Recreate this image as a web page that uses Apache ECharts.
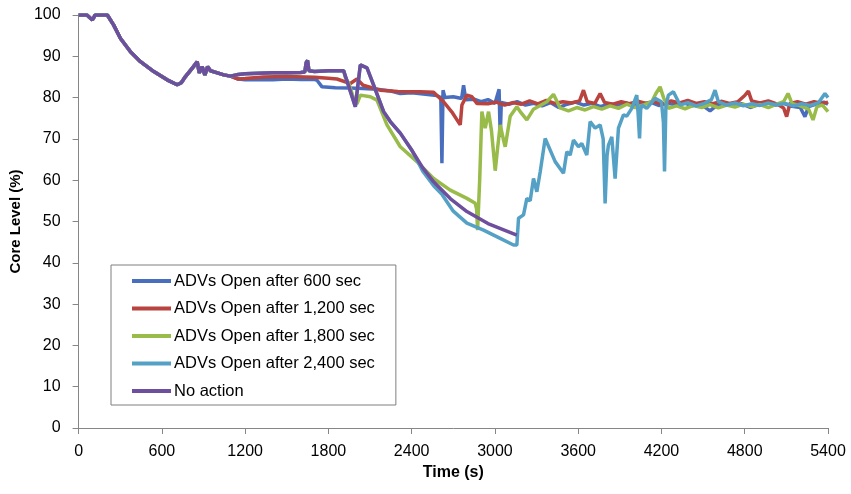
<!DOCTYPE html>
<html>
<head>
<meta charset="utf-8">
<script src="https://cdn.jsdelivr.net/npm/echarts@6/dist/echarts.min.js"></script>
<style>
  html, body { margin: 0; padding: 0; background: #fff; }
  #chart { width: 851px; height: 494px; }
</style>
</head>
<body>
<div id="chart"></div>
<script>
// 数据：[时间(s), 堆芯水位(%)]
const xTicks = [0, 600, 1200, 1800, 2400, 3000, 3600, 4200, 4800, 5400];
const seriesNames = ['ADVs Open after 600 sec', 'ADVs Open after 1,200 sec', 'ADVs Open after 1,800 sec', 'ADVs Open after 2,400 sec', 'No action'];

// 所有工况共同的前段
const commonStart = [[0,100],[60,100],[99,98.8],[120,100],[207,100],[252,97.6],[302,94.3],[374,91.1],[446,88.7],[542,86.3],[638,84.3],[710,83.1],[740,83.6],[770,85.1],[828,87.5],[854,88.7],[870,86],[890,87.5],[910,85.5],[930,87.5],[950,86.5],[1000,86],[1046,85.5],[1094,85.2]];

const adv600 = [[1150,84.5],[1200,84.3],[1300,84.4],[1400,84.3],[1500,84.5],[1600,84.4],[1700,84.4],[1718,84.2],[1754,82.6],[1850,82.4],[1950,82.3],[2050,82.2],[2150,82],[2250,81.6],[2318,81],[2400,81.2],[2500,80.8],[2580,80.5],[2610,80],[2618,64.1],[2626,81.8],[2640,80],[2700,80.2],[2760,79.8],[2774,83],[2790,79.5],[2850,79.6],[2900,79],[2950,79.5],[3000,78.6],[3030,82],[3038,70.5],[3046,78.8],[3100,78.4],[3160,79],[3220,78.2],[3280,78.6],[3340,78],[3400,78.8],[3460,77.6],[3520,78.4],[3580,78.9],[3640,78.2],[3700,78.6],[3760,77.8],[3820,78.5],[3880,78.2],[3940,78.8],[4000,77.9],[4060,78.4],[4120,78.9],[4180,78.1],[4240,78.6],[4300,78.3],[4360,78.8],[4420,78],[4480,78.5],[4550,76.8],[4600,78.2],[4660,78.7],[4720,78.1],[4780,78.5],[4840,77.6],[4900,78.4],[4960,78.9],[5020,78.2],[5080,78.6],[5140,77.9],[5200,77.6],[5234,75.4],[5260,77.8],[5320,78.5],[5370,78.9],[5400,78.4]];

const adv1200 = [[1150,84.5],[1200,84.6],[1332,85],[1500,85.1],[1700,84.9],[1800,84.7],[1862,84.5],[1958,83.4],[2006,84.5],[2050,83],[2174,81.8],[2300,81.5],[2462,81.4],[2558,81.3],[2630,79],[2690,76.5],[2750,73.4],[2762,78.2],[2798,80.6],[2834,80.2],[2870,78.6],[2950,78.5],[3010,78.9],[3070,78.2],[3130,78.8],[3190,78.4],[3250,79.2],[3310,78.5],[3370,79.3],[3430,78.6],[3490,79],[3550,78.7],[3610,79.2],[3638,81.8],[3665,79],[3720,78.6],[3758,81],[3790,78.8],[3850,78.4],[3910,79],[3970,78.5],[4030,79.1],[4090,78.6],[4150,79],[4210,78.4],[4270,79.2],[4330,78.7],[4390,79.3],[4450,78.6],[4510,79],[4570,78.5],[4630,79.1],[4690,78.6],[4750,79],[4800,80.5],[4826,81.6],[4850,79.2],[4910,78.7],[4970,79.2],[5030,78.5],[5080,77.5],[5102,75.4],[5125,78.5],[5180,79],[5240,78.4],[5300,79],[5360,78.6],[5400,78.9]];

// 无动作工况（中段、后段）
const noActionMid = [[1150,85.6],[1200,85.8],[1300,85.9],[1400,86],[1500,86],[1600,86.1],[1630,86.2],[1640,88.5],[1650,89],[1660,86.5],[1700,86.3],[1800,86.5],[1910,86.5]];
const noActionEnd = [[1994,77.8],[2030,87.9],[2078,87.2],[2126,83],[2198,76.6],[2246,74.2],[2318,71.4],[2400,67.3],[2480,63],[2558,59.6],[2680,55.5],[2798,52.4],[2950,49.5],[3158,46.7]];

const adv1800 = [[1920,85],[1946,83.5],[1990,79],[2006,78.5],[2030,80.6],[2102,80.2],[2150,79.4],[2222,73.4],[2318,68.1],[2438,64.5],[2558,60.4],[2678,57.6],[2798,55.6],[2858,54.4],[2868,53],[2875,47.9],[2890,60],[2906,76.6],[2930,72.6],[2954,76.6],[2975,72],[3002,62.3],[3020,68],[3038,73.4],[3062,69.7],[3074,68.1],[3110,75.5],[3158,77.8],[3182,76.6],[3230,74.6],[3278,77.2],[3374,79],[3422,80.8],[3470,77.5],[3530,76.8],[3590,77.6],[3650,77],[3710,77.8],[3770,77.2],[3830,78],[3890,77.4],[3950,78.4],[4010,77.6],[4070,78.2],[4130,79],[4160,81],[4190,82.6],[4215,80],[4250,77.4],[4310,78],[4370,77.3],[4430,78.1],[4490,77.6],[4550,78.3],[4610,77.5],[4670,78.2],[4730,77.7],[4790,78.4],[4850,77.8],[4910,78.3],[4970,77.6],[5030,78.4],[5080,79],[5112,81],[5140,78.6],[5200,78],[5260,77.2],[5292,74.6],[5320,77.8],[5360,78.2],[5400,76.6]];

// 2400 s 工况：此前与无动作相同
const adv2400Head = [[1994,77.8],[2030,87.9],[2078,87.2],[2126,83],[2198,76.6],[2246,74.2],[2318,71.4],[2400,67.3]];
const adv2400 = [[2480,62.2],[2560,58.6],[2620,56.5],[2700,52.5],[2798,49.6],[2918,47.9],[3038,45.9],[3134,44.3],[3158,44.3],[3170,50.8],[3206,51.6],[3230,55.6],[3254,55],[3278,60.4],[3302,57.2],[3326,62],[3362,70.1],[3434,64.5],[3494,61.7],[3518,66.9],[3542,66.1],[3566,69.7],[3602,68.1],[3626,68.9],[3662,66.1],[3686,74.2],[3722,72.6],[3758,73.4],[3780,70],[3794,54.4],[3808,66],[3818,68.5],[3842,70.5],[3866,60.4],[3890,72.6],[3926,75.8],[3950,75.5],[3986,77.4],[4022,80.6],[4032,76],[4042,70.1],[4050,77],[4058,78.2],[4094,77.4],[4154,79.8],[4200,79],[4214,74],[4222,62.1],[4232,78],[4250,80.6],[4286,81.4],[4334,78.2],[4390,78.8],[4450,78],[4510,78.6],[4560,79.5],[4586,81.8],[4610,79],[4670,78.2],[4730,78.7],[4790,78],[4850,78.5],[4910,78.1],[4970,78.7],[5030,78.2],[5090,78.6],[5150,78],[5210,78.5],[5270,78.1],[5330,78.7],[5378,81],[5400,80]];

const colors = ['#4A6EBE', '#B8433F', '#98BB4A', '#55A1C6', '#6D4F9E'];

// 拼接各工况
const seriesData = [
  commonStart.concat(adv600),
  commonStart.concat(adv1200),
  commonStart.concat(noActionMid, adv1800),
  commonStart.concat(noActionMid, adv2400Head, adv2400),
  commonStart.concat(noActionMid, noActionEnd)
];

const chart = echarts.init(document.getElementById('chart'));
const font = 'Liberation Sans, Arial, sans-serif';

chart.setOption({
  animation: false,
  color: colors,
  grid: { left: 78, right: 23, top: 15, bottom: 66 },
  legend: {
    orient: 'vertical',
    left: 111,
    top: 265,
    padding: [7, 21, 5, 21],
    borderColor: '#7f7f7f',
    borderWidth: 1,
    itemWidth: 39,
    itemHeight: 4,
    itemGap: 9.5,
    icon: 'rect',
    textStyle: { fontFamily: font, fontSize: 16.5, color: '#000', lineHeight: 18, padding: [0, 0, 0, -2] },
    data: seriesNames
  },
  xAxis: {
    type: 'value',
    min: 0,
    max: 5400,
    interval: 600,
    name: 'Time (s)',
    nameLocation: 'middle',
    nameGap: 36,
    nameTextStyle: { fontFamily: font, fontSize: 16, fontWeight: 'bold', color: '#000' },
    axisLine: { lineStyle: { color: '#868686', width: 1 } },
    axisTick: { show: true, length: 6, lineStyle: { color: '#868686' } },
    axisLabel: { margin: 16, fontFamily: font, fontSize: 16, color: '#000', formatter: v => String(v) },
    splitLine: { show: false }
  },
  yAxis: {
    type: 'value',
    min: 0,
    max: 100,
    interval: 10,
    name: 'Core Level (%)',
    nameLocation: 'middle',
    nameGap: 53,
    nameTextStyle: { fontFamily: font, fontSize: 15, fontWeight: 'bold', color: '#000' },
    axisLine: { show: true, lineStyle: { color: '#868686', width: 1 } },
    axisTick: { show: true, length: 6, lineStyle: { color: '#868686' } },
    axisLabel: { margin: 18, fontFamily: font, fontSize: 16, color: '#000' },
    splitLine: { show: false }
  },
  series: seriesNames.map((name, i) => ({
    name: name,
    type: 'line',
    data: seriesData[i],
    showSymbol: false,
    symbol: 'none',
    lineStyle: { width: 3.5, color: colors[i] },
    z: 2 + i
  }))
});
</script>
</body>
</html>
